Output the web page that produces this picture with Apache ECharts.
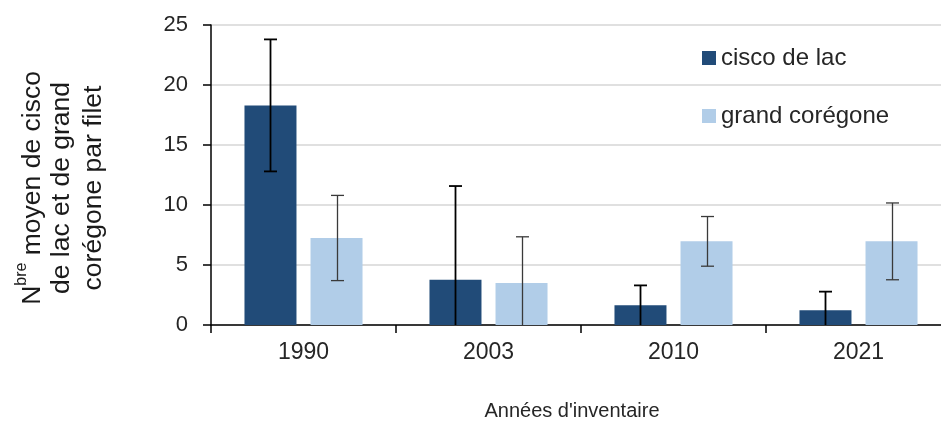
<!DOCTYPE html>
<html>
<head>
<meta charset="utf-8">
<script src="https://cdn.jsdelivr.net/npm/echarts@6/dist/echarts.min.js"></script>
<style>
html,body{margin:0;padding:0;background:#fff;overflow:hidden;width:941px;height:426px;}
#chart{width:951px;height:426px;}
</style>
</head>
<body>
<div id="chart"></div>
<script>
const categories = ['1990', '2003', '2010', '2021'];
const seriesNames = ['cisco de lac', 'grand corégone'];
const ciscoValues = [18.3, 3.78, 1.64, 1.22];
const ciscoErrors = [5.5, 7.8, 1.66, 1.56];
const coregoneValues = [7.25, 3.5, 6.97, 6.97];
const coregoneErrors = [3.55, 3.85, 2.07, 3.2];
const yTicks = [0, 5, 10, 15, 20, 25];

const FONT = 'Liberation Sans, Arial, sans-serif';
const BAR_W = 52;
const GAP_RATIO = 0.27;
const DARK = '#214b78';
const LIGHT = '#b1cde8';

function errorSeries(values, errors, side, color, lw) {
  const data = values.map((v, i) => [i, Math.max(0, v - errors[i]), v + errors[i], v - errors[i] >= 0 ? 1 : 0]);
  return {
    type: 'custom',
    z: 5,
    silent: true,
    data: data,
    renderItem: function (params, api) {
      const idx = api.value(0);
      const top = api.coord([idx, api.value(2)]);
      const bot = api.coord([idx, api.value(1)]);
      const off = side * (BAR_W + BAR_W * GAP_RATIO) / 2;
      const x = Math.round(top[0] + off) + 0.5;
      const hw = 6.5;
      const children = [
        { type: 'line', shape: { x1: x, y1: top[1], x2: x, y2: bot[1] }, style: { stroke: color, lineWidth: lw } },
        { type: 'line', shape: { x1: x - hw, y1: top[1], x2: x + hw, y2: top[1] }, style: { stroke: color, lineWidth: lw } }
      ];
      if (api.value(3) === 1) {
        children.push({ type: 'line', shape: { x1: x - hw, y1: bot[1], x2: x + hw, y2: bot[1] }, style: { stroke: color, lineWidth: lw } });
      }
      return { type: 'group', children: children };
    }
  };
}

const chart = echarts.init(document.getElementById('chart'), null, { renderer: 'canvas' });
chart.setOption({
  animation: false,
  backgroundColor: '#ffffff',
  grid: { left: 211, top: 25, right: 0, bottom: 101, containLabel: false },
  legend: {
    data: seriesNames,
    orient: 'vertical',
    left: 702,
    top: 46,
    padding: 0,
    itemWidth: 14,
    itemHeight: 14,
    itemGap: 34,
    icon: 'rect',
    textStyle: { fontFamily: FONT, fontSize: 24, color: '#262626' }
  },
  xAxis: {
    type: 'category',
    data: categories,
    axisLine: { lineStyle: { color: '#000', width: 1.5 } },
    axisTick: { show: true, length: 8, lineStyle: { color: '#000', width: 1.5 } },
    axisLabel: { fontFamily: FONT, fontSize: 23, color: '#262626', margin: 16 }
  },
  yAxis: {
    type: 'value',
    min: yTicks[0],
    max: yTicks[yTicks.length - 1],
    interval: yTicks[1] - yTicks[0],
    axisLine: { show: true, lineStyle: { color: '#000', width: 1.5 } },
    axisTick: { show: true, length: 8, lineStyle: { color: '#000', width: 1.5 } },
    axisLabel: { fontFamily: FONT, fontSize: 22, color: '#262626', margin: 23 },
    splitLine: { show: true, lineStyle: { color: '#d6d6d6', width: 1.5 } }
  },
  graphic: [
    {
      type: 'text',
      x: 62,
      y: 188,
      rotation: Math.PI / 2,
      style: {
        text: '{n|N}{sup|bre}{n| moyen de cisco}\n{m|de lac et de grand}\n{m|corégone par filet}',
        align: 'center',
        verticalAlign: 'middle',
        fill: '#1a1a1a',
        rich: {
          n: { fontFamily: FONT, fontSize: 26.5, lineHeight: 32, verticalAlign: 'bottom', fill: '#1a1a1a' },
          m: { fontFamily: FONT, fontSize: 26.5, lineHeight: 32, fill: '#1a1a1a' },
          sup: { fontFamily: FONT, fontSize: 16, lineHeight: 16, padding: [0, 0, 20, 0], verticalAlign: 'top', fill: '#1a1a1a' }
        }
      }
    },
    {
      type: 'text',
      x: 572,
      y: 411,
      style: {
        text: "Années d'inventaire",
        align: 'center',
        verticalAlign: 'middle',
        fontFamily: FONT,
        fontSize: 20,
        fill: '#262626'
      }
    }
  ],
  series: [
    {
      name: seriesNames[0],
      type: 'bar',
      data: ciscoValues,
      barWidth: BAR_W,
      barGap: (GAP_RATIO * 100) + '%',
      itemStyle: { color: DARK }
    },
    {
      name: seriesNames[1],
      type: 'bar',
      data: coregoneValues,
      barWidth: BAR_W,
      barGap: (GAP_RATIO * 100) + '%',
      itemStyle: { color: LIGHT }
    },
    errorSeries(ciscoValues, ciscoErrors, -1, '#000000', 1.8),
    errorSeries(coregoneValues, coregoneErrors, 1, '#3a3a3a', 1.3)
  ]
});
</script>
</body>
</html>
